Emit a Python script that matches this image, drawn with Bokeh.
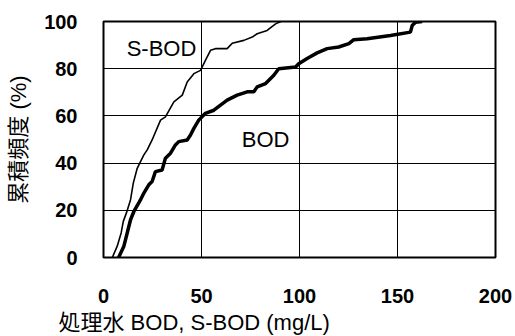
from bokeh.plotting import figure
from bokeh.models import Range1d, FixedTicker, Label, Title
from bokeh.embed import file_html
from bokeh.resources import INLINE

# S-BOD cumulative frequency (thin line)
sbod_x = [4.5, 7.0, 9.0, 10.1, 11.7, 13.8, 15.2, 17.2, 18.5, 20.6, 22.3, 24.8, 29.1, 31.6,
          35.9, 40.2, 42.7, 46.1, 49.5, 52.0, 54.6, 57.1, 63.1, 65.7, 71.6, 75.9, 78.4,
          83.5, 87.8, 90.5]
sbod_y = [0, 4.8, 10.4, 15.3, 18.9, 24.5, 31.5, 37.8, 40.0, 43.5, 45.6, 49.8, 58.2, 59.6,
          65.9, 68.8, 74.4, 77.9, 79.3, 83.5, 87.8, 88.5, 88.5, 90.8, 92.0, 93.4, 94.8,
          96.2, 99.0, 100]

# BOD cumulative frequency (thick line)
bod_x = [7.7, 10.4, 12.1, 13.8, 15.5, 18.0, 18.9, 20.6, 23.1, 24.8, 26.5, 29.9, 31.6, 34.2,
         36.7, 38.4, 42.7, 44.4, 46.1, 48.6, 52.0, 56.3, 59.7, 63.1, 68.2, 73.3, 76.7,
         78.4, 82.7, 86.9, 89.4, 98.0, 99.6, 103.9, 109.0, 114.1, 120.0, 125.2, 127.7,
         134.5, 146.4, 156.6, 157.5, 159.2, 162.6]
bod_y = [0, 4.8, 10.4, 16.0, 19.5, 23.1, 24.5, 27.3, 30.8, 32.2, 36.4, 37.1, 42.1, 44.2,
         47.7, 49.1, 49.8, 51.9, 54.7, 58.2, 61.1, 62.4, 64.6, 66.7, 68.8, 70.2, 70.2,
         72.3, 73.7, 77.2, 80.0, 80.7, 82.1, 84.3, 86.7, 88.5, 89.2, 90.6, 92.3,
         92.7, 94.1, 95.5, 98.3, 99.7, 100]

x_ticks = [0, 50, 100, 150, 200]
y_ticks = [0, 20, 40, 60, 80, 100]
x_title = "処理水 BOD, S-BOD (mg/L)"
y_title = "累積頻度 (%)"

FONT = "Liberation Sans, Arial, Noto Sans CJK JP"

p = figure(width=515, height=336, output_backend="svg", toolbar_location=None,
           x_range=Range1d(0, 200), y_range=Range1d(0, 100),
           min_border_left=103, min_border_right=20, min_border_top=21, min_border_bottom=0)
p.background_fill_color = "white"
p.border_fill_color = "white"
p.outline_line_color = "black"
p.outline_line_width = 2

for ax in (p.xaxis, p.yaxis):
    ax.axis_line_color = None
    ax.major_tick_line_color = None
    ax.minor_tick_line_color = None
    ax.major_label_text_font = FONT
    ax.major_label_text_font_style = "bold"
    ax.major_label_text_font_size = "20px"
    ax.major_label_text_color = "black"

p.xaxis.ticker = FixedTicker(ticks=x_ticks)
p.yaxis.ticker = FixedTicker(ticks=y_ticks)
p.xaxis.major_label_standoff = 25
p.yaxis.major_label_standoff = 20

p.yaxis.axis_label = y_title
p.yaxis.axis_label_text_font = FONT
p.yaxis.axis_label_text_font_style = "normal"
p.yaxis.axis_label_text_font_size = "22px"
p.yaxis.axis_label_text_color = "black"
p.yaxis.axis_label_standoff = 10

p.xgrid.ticker = FixedTicker(ticks=x_ticks)
p.ygrid.ticker = FixedTicker(ticks=y_ticks)
for g in (p.xgrid, p.ygrid):
    g.grid_line_color = "black"
    g.grid_line_width = 1
    g.grid_line_alpha = 1

p.line(sbod_x, sbod_y, line_color="black", line_width=1.6)
p.line(bod_x, bod_y, line_color="black", line_width=3.5)

p.add_layout(Label(x=29.6, y=88.6, text="S-BOD", text_align="center", text_baseline="middle",
                   text_font=FONT, text_font_size="22px", text_color="black",
                   background_fill_color="white"))
p.add_layout(Label(x=82.7, y=49.8, text="BOD", text_align="center", text_baseline="middle",
                   text_font=FONT, text_font_size="22px", text_color="black"))

xt = Title(text=x_title, align="left", offset=-45, standoff=4,
           text_font=FONT, text_font_size="22px", text_font_style="normal",
           text_color="black")
p.add_layout(xt, "below")

open("out.html", "w").write(file_html(p, INLINE))
